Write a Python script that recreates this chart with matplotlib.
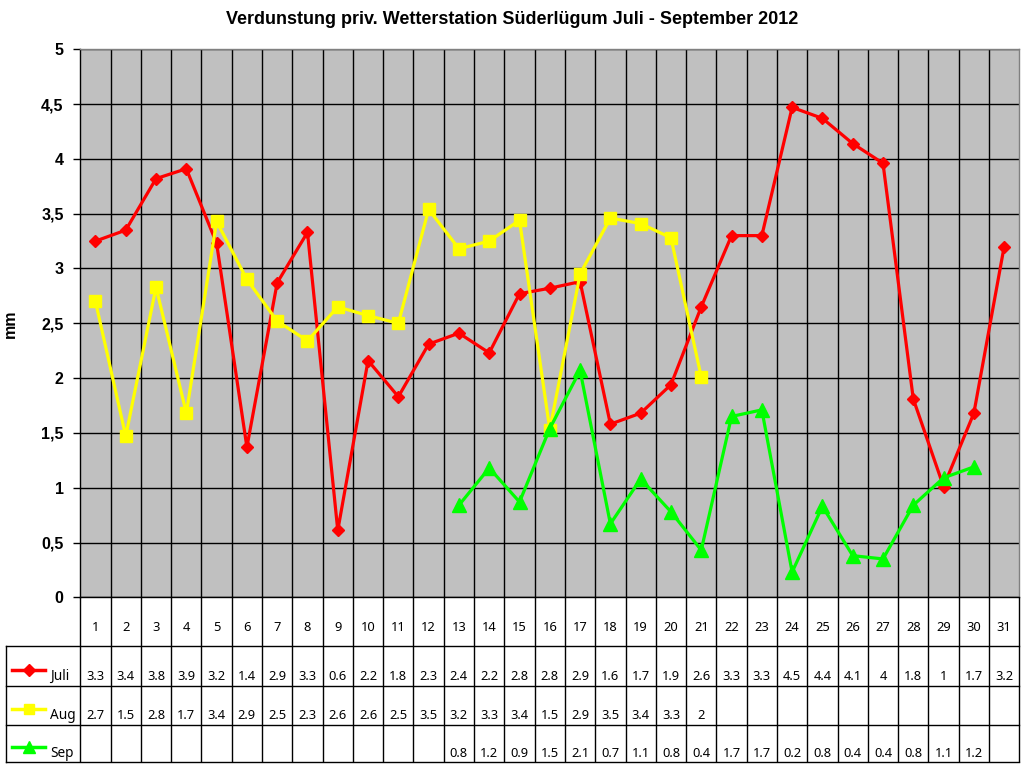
import numpy as np
import matplotlib
matplotlib.use('Agg')
import matplotlib.pyplot as plt
from matplotlib.ticker import MultipleLocator, FuncFormatter

# --- data ---
days = list(range(1, 32))

juli = [3.25, 3.35, 3.82, 3.91, 3.23, 1.37, 2.87, 3.33, 0.61, 2.16, 1.83, 2.31,
        2.41, 2.23, 2.77, 2.82, 2.88, 1.58, 1.68, 1.94, 2.65, 3.30, 3.30, 4.47,
        4.37, 4.14, 3.96, 1.81, 1.01, 1.68, 3.20]
aug_days = list(range(1, 22))
aug = [2.70, 1.47, 2.83, 1.68, 3.43, 2.90, 2.52, 2.34, 2.65, 2.57, 2.50, 3.54,
       3.18, 3.25, 3.44, 1.53, 2.95, 3.46, 3.41, 3.28, 2.01]
sep_days = list(range(13, 31))
sep = [0.84, 1.18, 0.87, 1.54, 2.07, 0.67, 1.08, 0.78, 0.43, 1.65, 1.71, 0.23,
       0.83, 0.38, 0.35, 0.84, 1.09, 1.19]

# values as printed in the data table
juli_lbl = ['3.3', '3.4', '3.8', '3.9', '3.2', '1.4', '2.9', '3.3', '0.6', '2.2',
            '1.8', '2.3', '2.4', '2.2', '2.8', '2.8', '2.9', '1.6', '1.7', '1.9',
            '2.6', '3.3', '3.3', '4.5', '4.4', '4.1', '4', '1.8', '1', '1.7', '3.2']
aug_lbl = ['2.7', '1.5', '2.8', '1.7', '3.4', '2.9', '2.5', '2.3', '2.6', '2.6',
           '2.5', '3.5', '3.2', '3.3', '3.4', '1.5', '2.9', '3.5', '3.4', '3.3', '2']
sep_lbl = ['0.8', '1.2', '0.9', '1.5', '2.1', '0.7', '1.1', '0.8', '0.4', '1.7',
           '1.7', '0.2', '0.8', '0.4', '0.4', '0.8', '1.1', '1.2']

title = 'Verdunstung priv. Wetterstation Süderlügum Juli - September 2012'

series = [
    ('Juli', days, juli, juli_lbl, '#FF0000', 'D', 6.2),
    ('Aug', aug_days, aug, aug_lbl, '#FFFF00', 's', 8.0),
    ('Sep', sep_days, sep, sep_lbl, '#00FF00', '^', 9.5),
]

# --- layout in pixels (1024 x 768) ---
W, H = 1024, 768
plot_l, plot_r, plot_t, plot_b = 80.3, 1019.3, 49.3, 597.3
row_edges = [597.3, 645.7, 685.7, 724.7, 762.3]
legend_l = 6.3

fig = plt.figure(figsize=(W / 100, H / 100), dpi=100)
fig.patch.set_facecolor('white')

ax = fig.add_axes([plot_l / W, 1 - plot_b / H, (plot_r - plot_l) / W, (plot_b - plot_t) / H])
ax.set_facecolor('#C0C0C0')
ax.set_xlim(0.5, 31.5)
ax.set_ylim(0, 5)

ax.yaxis.set_major_locator(MultipleLocator(0.5))
ax.yaxis.set_major_formatter(FuncFormatter(lambda v, p: ('%g' % v).replace('.', ',')))
ax.set_xticks([])
ax.set_xticks(np.arange(1.5, 31, 1), minor=True)
ax.tick_params(axis='x', which='both', length=0, labelbottom=False)
ax.tick_params(axis='y', direction='out', length=5, width=1, labelsize=11.5, pad=7)
for lab in ax.get_yticklabels():
    lab.set_fontweight('bold')
    lab.set_family('Liberation Sans')

ax.grid(axis='y', which='major', color='black', linewidth=1.0)
ax.grid(axis='x', which='minor', color='black', linewidth=1.0)
ax.set_axisbelow(True)

for side in ['top', 'right']:
    ax.spines[side].set_color('#808080')
for side in ['left', 'bottom']:
    ax.spines[side].set_color('black')
for sp in ax.spines.values():
    sp.set_linewidth(1.0)

for name, xs, ys, lbl, col, mk, ms in series:
    ax.plot(xs, ys, color=col, linewidth=2.3, marker=mk, markersize=ms,
            markeredgecolor=col, markerfacecolor=col, clip_on=False, zorder=3)

ax.set_ylabel('mm', fontsize=11.5, fontweight='bold', family='Liberation Sans')
ax.yaxis.set_label_coords((18 - plot_l) / (plot_r - plot_l), 0.5)

fig.text(0.5, 1 - 20 / H, title, ha='center', va='center', fontsize=13,
         fontweight='bold', family='Liberation Sans')

# --- data table below the plot ---
tab = fig.add_axes([plot_l / W, 1 - row_edges[-1] / H, (plot_r - plot_l) / W,
                    (row_edges[-1] - row_edges[0]) / H])
tab.set_xlim(0.5, 31.5)
tab.set_ylim(row_edges[-1], row_edges[0])
tab.axis('off')

colw = (plot_r - plot_l) / 31.0
def px2x(px):
    return 0.5 + (px - plot_l) / colw

xl = px2x(legend_l)
lw = 1.0
# vertical cell borders
for k in range(32):
    tab.plot([k + 0.5, k + 0.5], [row_edges[0], row_edges[-1]], color='black', lw=lw,
             clip_on=False, solid_capstyle='butt')
tab.plot([xl, xl], [row_edges[1], row_edges[-1]], color='black', lw=lw, clip_on=False)
for y in row_edges[1:]:
    tab.plot([xl, 31.5], [y, y], color='black', lw=lw, clip_on=False)

tfont = dict(family='Noto Sans', fontsize=9.3, ha='center', va='center')
for d in days:
    tab.text(d, 628, str(d), **tfont)

for i, (name, xs, ys, lbl, col, mk, ms) in enumerate(series):
    top, bot = row_edges[i + 1], row_edges[i + 2]
    ty = bot - 9
    for x, s in zip(xs, lbl):
        tab.text(x, ty, s, **tfont)
    # legend key
    ky = top + (bot - top) * 0.6
    tab.plot([px2x(12), px2x(45)], [ky, ky], color=col, lw=2.5, clip_on=False)
    tab.plot([px2x(28.5)], [ky], marker=mk, markersize=ms * 0.95, color=col, clip_on=False)
    tab.text(px2x(50), ty, name, family='Noto Sans', fontsize=9.8, ha='left', va='center')

fig.savefig('out.png', dpi=100)
